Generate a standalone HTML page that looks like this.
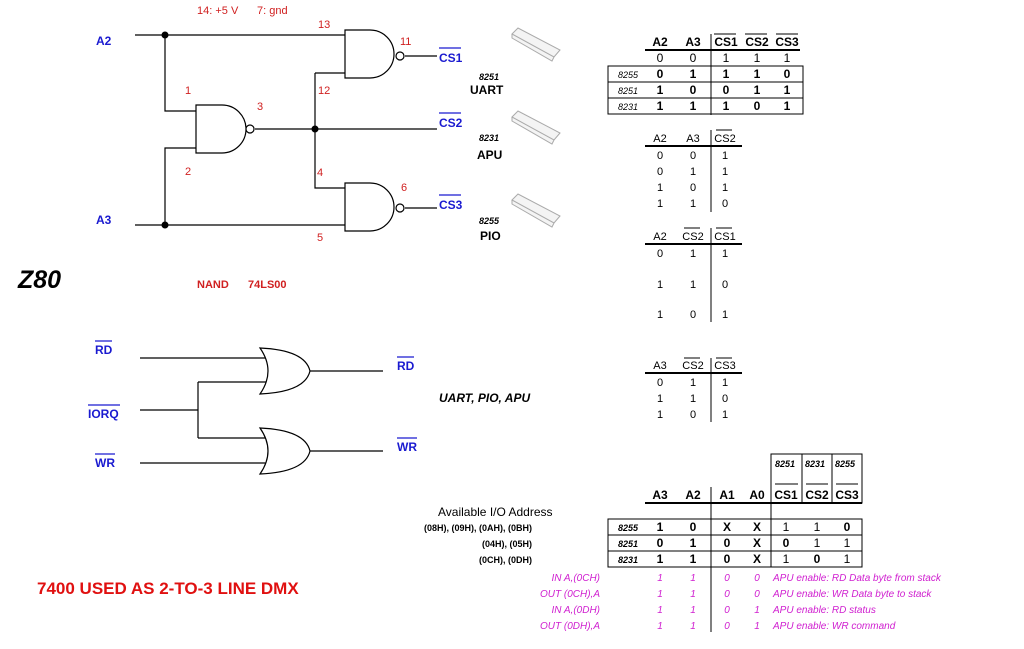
<!DOCTYPE html>
<html><head><meta charset="utf-8"><style>
html,body{margin:0;padding:0;background:#fff;width:1024px;height:649px;overflow:hidden}
svg{display:block;font-family:"Liberation Sans",Arial,sans-serif}
.b{fill:#1a1ad0;font-weight:bold;font-size:12px}
.r{fill:#d02020;font-size:11px}
.t{font-size:11px;fill:#000}
.tb{font-size:12px;font-weight:bold;fill:#000}
.m{fill:#d020d0;font-style:italic;font-size:10px}
.s{font-size:9px;font-style:italic;fill:#000}
</style></head><body>
<svg width="1024" height="649" viewBox="0 0 1024 649" xmlns="http://www.w3.org/2000/svg">
<g stroke="#000" stroke-width="1.2" fill="none">
<path d="M135 35H345M135 225H345M165 35V111H196M165 225V148H196M255 129H437M315 73V188H345M315 73H345M405 56H437M405 208H437"/>
<path d="M196 105H222A24 24 0 0 1 222 153H196Z" fill="#fff"/>
<circle cx="250" cy="129" r="4" fill="#fff"/>
<path d="M345 30H370A24 24 0 0 1 370 78H345Z" fill="#fff"/>
<circle cx="400" cy="56" r="4" fill="#fff"/>
<path d="M345 183H370A24 24 0 0 1 370 231H345Z" fill="#fff"/>
<circle cx="400" cy="208" r="4" fill="#fff"/>
<path d="M140 358H270M140 410H198M198 382V438M198 382H270M198 438H270M140 463H270M310 371H383M310 451H383"/>
<path d="M260 348Q305 350 310 371Q305 392 260 394Q276 371 260 348Z" fill="#fff"/>
<path d="M260 428Q305 430 310 451Q305 472 260 474Q276 451 260 428Z" fill="#fff"/>
</g>
<g fill="#000"><circle cx="165" cy="35" r="3.5"/><circle cx="165" cy="225" r="3.5"/><circle cx="315" cy="129" r="3.5"/></g>
<text x="197" y="14" class="r" font-size="12">14: +5 V</text><text x="257" y="14" class="r" font-size="12">7: gnd</text>
<text x="96" y="45" class="b">A2</text><text x="96" y="224" class="b">A3</text>
<g class="r" font-size="12">
<text x="318" y="28">13</text><text x="400" y="45">11</text><text x="318" y="94">12</text>
<text x="185" y="94">1</text><text x="257" y="110">3</text><text x="185" y="175">2</text>
<text x="317" y="176">4</text><text x="401" y="191">6</text><text x="317" y="241">5</text></g>
<g class="b"><text x="439" y="62">CS1</text><text x="439" y="127">CS2</text><text x="439" y="209">CS3</text>
<text x="95" y="354">RD</text><text x="88" y="418">IORQ</text><text x="95" y="467">WR</text>
<text x="397" y="370">RD</text><text x="397" y="451">WR</text></g>
<g stroke="#1a1ad0" stroke-width="1.2"><path d="M439 48H461M439 113H461M439 195H461M95 341H112M88 405H120M95 454H115M397 357H414M397 438H417"/></g>
<text x="18" y="288" font-size="25" font-weight="bold" font-style="italic">Z80</text>
<text x="197" y="288" fill="#d02020" font-size="11" font-weight="bold">NAND</text>
<text x="248" y="288" fill="#d02020" font-size="11" font-weight="bold">74LS00</text>
<text x="439" y="402" font-size="12" font-weight="bold" font-style="italic">UART, PIO, APU</text>
<text x="37" y="594" fill="#e01010" font-size="17" font-weight="bold">7400 USED AS 2-TO-3 LINE DMX</text>
<g fill="#f4f4f4" stroke="#aaa" stroke-width="1">
<path d="M512 34L518 28L560 50L554 57Z M512 34L512 38L552 61L554 57"/>
<path d="M512 117L518 111L560 133L554 140Z M512 117L512 121L552 144L554 140"/>
<path d="M512 200L518 194L560 216L554 223Z M512 200L512 204L552 227L554 223"/>
</g>
<g class="s" font-weight="bold"><text x="479" y="80">8251</text><text x="479" y="141">8231</text><text x="479" y="224">8255</text></g>
<g class="tb"><text x="470" y="94">UART</text><text x="477" y="159">APU</text><text x="480" y="240">PIO</text></g>
<g stroke="#000" fill="none"><path d="M645 50H800" stroke-width="2"/><path d="M711 34V115"/><rect x="608" y="66" width="195" height="48"/><path d="M608 82H803M608 98H803"/>
<path d="M714 34H736M745 34H767M776 34H798"/></g>
<g class="tb" text-anchor="middle"><text x="660" y="46">A2</text><text x="693" y="46">A3</text><text x="726" y="46">CS1</text><text x="757" y="46">CS2</text><text x="787" y="46">CS3</text></g>
<g font-size="12" text-anchor="middle"><text x="660" y="62">0</text><text x="693" y="62">0</text><text x="726" y="62">1</text><text x="757" y="62">1</text><text x="787" y="62">1</text></g>
<g class="tb" text-anchor="middle">
<text x="660" y="78">0</text><text x="693" y="78">1</text><text x="726" y="78">1</text><text x="757" y="78">1</text><text x="787" y="78">0</text>
<text x="660" y="94">1</text><text x="693" y="94">0</text><text x="726" y="94">0</text><text x="757" y="94">1</text><text x="787" y="94">1</text>
<text x="660" y="110">1</text><text x="693" y="110">1</text><text x="726" y="110">1</text><text x="757" y="110">0</text><text x="787" y="110">1</text></g>
<g class="s"><text x="618" y="78">8255</text><text x="618" y="94">8251</text><text x="618" y="110">8231</text></g>
<g stroke="#000" fill="none"><path d="M645 146H742M645 244H742M645 373H742" stroke-width="2"/><path d="M711 130V212M711 228V322M711 358V422"/>
<path d="M716 130H732M684 228H700M716 228H732M684 358H700M716 358H732"/></g>
<g class="t" text-anchor="middle">
<text x="660" y="142">A2</text><text x="693" y="142">A3</text><text x="725" y="142">CS2</text>
<text x="660" y="159">0</text><text x="693" y="159">0</text><text x="725" y="159">1</text>
<text x="660" y="175">0</text><text x="693" y="175">1</text><text x="725" y="175">1</text>
<text x="660" y="191">1</text><text x="693" y="191">0</text><text x="725" y="191">1</text>
<text x="660" y="207">1</text><text x="693" y="207">1</text><text x="725" y="207">0</text>
<text x="660" y="240">A2</text><text x="693" y="240">CS2</text><text x="725" y="240">CS1</text>
<text x="660" y="257">0</text><text x="693" y="257">1</text><text x="725" y="257">1</text>
<text x="660" y="288">1</text><text x="693" y="288">1</text><text x="725" y="288">0</text>
<text x="660" y="318">1</text><text x="693" y="318">0</text><text x="725" y="318">1</text>
<text x="660" y="369">A3</text><text x="693" y="369">CS2</text><text x="725" y="369">CS3</text>
<text x="660" y="386">0</text><text x="693" y="386">1</text><text x="725" y="386">1</text>
<text x="660" y="402">1</text><text x="693" y="402">1</text><text x="725" y="402">0</text>
<text x="660" y="418">1</text><text x="693" y="418">0</text><text x="725" y="418">1</text></g>
<g stroke="#000" fill="none"><rect x="771" y="454" width="91" height="49"/><path d="M802 454V503M832 454V503"/>
<path d="M645 503H862" stroke-width="2"/><path d="M711 487V632M771 503V567"/>
<rect x="608" y="519" width="254" height="48"/><path d="M608 535H862M608 551H862"/>
<path d="M775 484H798M806 484H828M836 484H858"/></g>
<g class="s" font-weight="bold"><text x="775" y="467">8251</text><text x="805" y="467">8231</text><text x="835" y="467">8255</text></g>
<g class="tb" text-anchor="middle"><text x="660" y="499">A3</text><text x="693" y="499">A2</text><text x="727" y="499">A1</text><text x="757" y="499">A0</text>
<text x="786" y="499">CS1</text><text x="817" y="499">CS2</text><text x="847" y="499">CS3</text></g>
<text x="438" y="516" font-size="12">Available I/O Address</text>
<g font-size="9" font-weight="bold" text-anchor="end"><text x="532" y="531">(08H), (09H), (0AH), (0BH)</text><text x="532" y="547">(04H), (05H)</text><text x="532" y="563">(0CH), (0DH)</text></g>
<g class="s" font-weight="bold"><text x="618" y="531">8255</text><text x="618" y="547">8251</text><text x="618" y="563">8231</text></g>
<g class="tb" text-anchor="middle">
<text x="660" y="531">1</text><text x="693" y="531">0</text><text x="727" y="531">X</text><text x="757" y="531">X</text>
<text x="660" y="547">0</text><text x="693" y="547">1</text><text x="727" y="547">0</text><text x="757" y="547">X</text>
<text x="660" y="563">1</text><text x="693" y="563">1</text><text x="727" y="563">0</text><text x="757" y="563">X</text></g>
<g font-size="12" text-anchor="middle">
<text x="786" y="531">1</text><text x="817" y="531">1</text><text x="847" y="531" font-weight="bold">0</text>
<text x="786" y="547" font-weight="bold">0</text><text x="817" y="547">1</text><text x="847" y="547">1</text>
<text x="786" y="563">1</text><text x="817" y="563" font-weight="bold">0</text><text x="847" y="563">1</text></g>
<g class="m" text-anchor="end"><text x="600" y="581">IN A,(0CH)</text><text x="600" y="597">OUT (0CH),A</text><text x="600" y="613">IN A,(0DH)</text><text x="600" y="629">OUT (0DH),A</text></g>
<g class="m" font-size="12" text-anchor="middle">
<text x="660" y="581">1</text><text x="693" y="581">1</text><text x="727" y="581">0</text><text x="757" y="581">0</text>
<text x="660" y="597">1</text><text x="693" y="597">1</text><text x="727" y="597">0</text><text x="757" y="597">0</text>
<text x="660" y="613">1</text><text x="693" y="613">1</text><text x="727" y="613">0</text><text x="757" y="613">1</text>
<text x="660" y="629">1</text><text x="693" y="629">1</text><text x="727" y="629">0</text><text x="757" y="629">1</text></g>
<g class="m"><text x="773" y="581">APU enable: RD Data byte from stack</text><text x="773" y="597">APU enable: WR Data byte to stack</text>
<text x="773" y="613">APU enable: RD status</text><text x="773" y="629">APU enable: WR command</text></g>
</svg>
</body></html>
